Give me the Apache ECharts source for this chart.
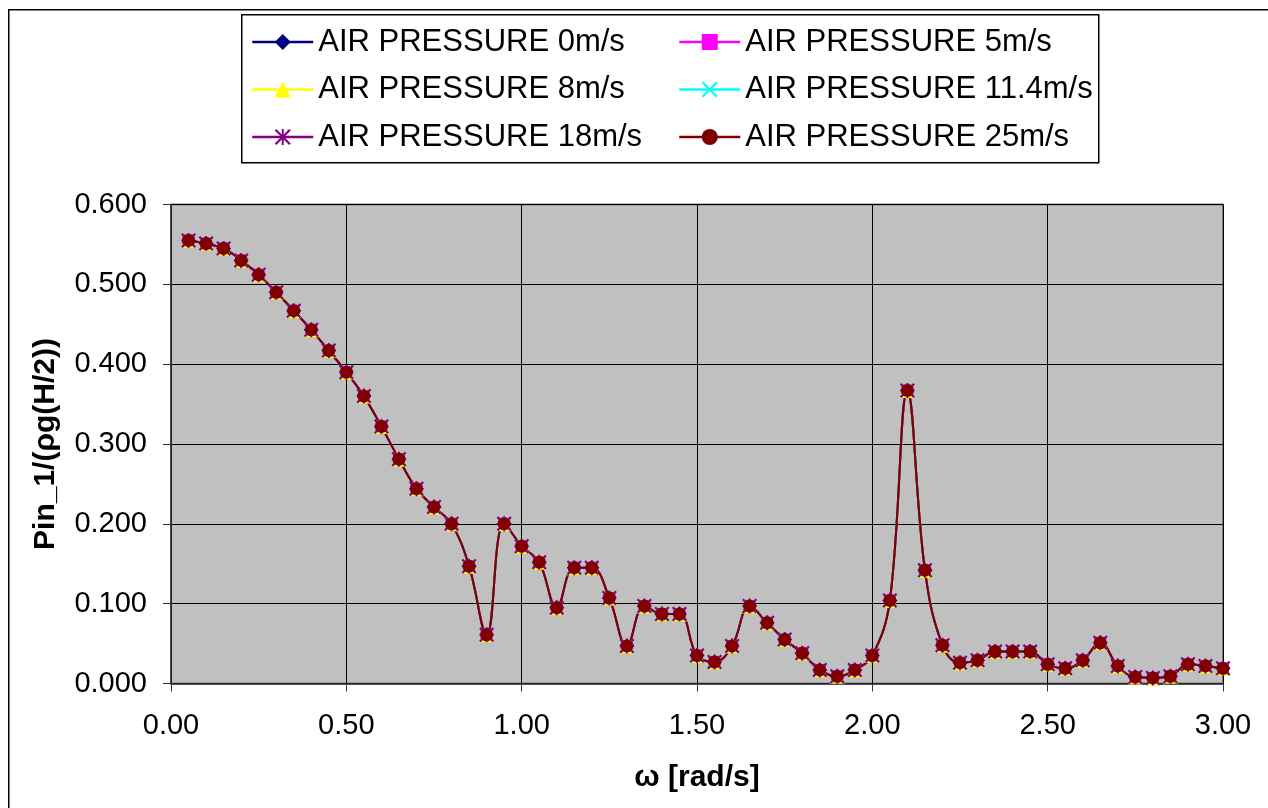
<!DOCTYPE html>
<html>
<head>
<meta charset="utf-8">
<script src="https://cdn.jsdelivr.net/npm/echarts@6/dist/echarts.min.js"></script>
<style>
  html, body { margin: 0; padding: 0; background: #fff; }
  #chart { width: 1268px; height: 808px; }
</style>
</head>
<body>
<div id="chart"></div>
<script>
// omega [rad/s]
var omega = [0.05, 0.10, 0.15, 0.20, 0.25, 0.30, 0.35, 0.40, 0.45, 0.50,
             0.55, 0.60, 0.65, 0.70, 0.75, 0.80, 0.85, 0.90, 0.95, 1.00,
             1.05, 1.10, 1.15, 1.20, 1.25, 1.30, 1.35, 1.40, 1.45, 1.50,
             1.55, 1.60, 1.65, 1.70, 1.75, 1.80, 1.85, 1.90, 1.95, 2.00,
             2.05, 2.10, 2.15, 2.20, 2.25, 2.30, 2.35, 2.40, 2.45, 2.50,
             2.55, 2.60, 2.65, 2.70, 2.75, 2.80, 2.85, 2.90, 2.95, 3.00];

// Pin_1/(rho g (H/2)) - the six wind speeds read the same at this scale
var pinRead = [0.555, 0.551, 0.545, 0.530, 0.512, 0.490, 0.467, 0.443, 0.417, 0.390,
               0.360, 0.322, 0.281, 0.244, 0.221, 0.200, 0.147, 0.061, 0.200, 0.172,
               0.152, 0.095, 0.145, 0.145, 0.107, 0.047, 0.097, 0.087, 0.087, 0.035,
               0.027, 0.047, 0.097, 0.076, 0.055, 0.038, 0.017, 0.009, 0.017, 0.035,
               0.104, 0.367, 0.142, 0.048, 0.026, 0.029, 0.040, 0.040, 0.040, 0.024,
               0.019, 0.029, 0.051, 0.022, 0.008, 0.007, 0.009, 0.024, 0.022, 0.019];

var pin0 = pinRead, pin5 = pinRead, pin8 = pinRead, pin11 = pinRead, pin18 = pinRead, pin25 = pinRead;

var names = ['AIR PRESSURE 0m/s', 'AIR PRESSURE 5m/s', 'AIR PRESSURE 8m/s',
             'AIR PRESSURE 11.4m/s', 'AIR PRESSURE 18m/s', 'AIR PRESSURE 25m/s'];
var values = [pin0, pin5, pin8, pin11, pin18, pin25];
var colors = ['#000080', '#FF00FF', '#FFFF00', '#00FFFF', '#800080', '#800000'];

var xPath = 'path://M1,0L5,4L9,0L10,1L6,5L10,9L9,10L5,6L1,10L0,9L4,5L0,1Z';
var starPath = 'path://M1,0L5,4L9,0L10,1L6,5L10,9L9,10L5,6L1,10L0,9L4,5L0,1Z M4.4,0L5.6,0L5.6,10L4.4,10Z';
var symbols = ['diamond', 'rect', 'triangle', xPath, starPath, 'circle'];
var sizes = [15, 12, 15, 14, 15, 13];

var FONT = '"Liberation Sans", Arial, sans-serif';

var chart = echarts.init(document.getElementById('chart'));

var series = names.map(function (n, i) {
    return {
        name: n,
        type: 'line',
        smooth: 0.4,
        symbol: symbols[i],
        symbolSize: sizes[i],
        showAllSymbol: true,
        lineStyle: { color: colors[i], width: 2 },
        itemStyle: { color: colors[i], borderWidth: 0 },
        data: omega.map(function (x, k) { return [x, values[i][k]]; })
    };
});

var legendBase = {
    orient: 'vertical',
    top: 26,
    padding: 0,
    itemWidth: 61,
    itemHeight: 20,
    itemGap: 15.5,
    lineStyle: { width: 2.5 },
    textStyle: { fontFamily: FONT, fontSize: 31, color: '#000', lineHeight: 32 },
    inactiveColor: '#ccc'
};

chart.setOption({
    backgroundColor: '#fff',
    animation: false,
    graphic: [
        { type: 'rect', left: 8, top: 9, z: -10,
          shape: { width: 1400, height: 1000 },
          style: { fill: '#fff', stroke: '#000', lineWidth: 1.5 } },
        { type: 'rect', left: 241, top: 14, z: -5,
          shape: { width: 857, height: 148 },
          style: { fill: '#fff', stroke: '#000', lineWidth: 1.5 } }
    ],
    legend: [
        Object.assign({}, legendBase, { left: 251, data: [names[0], names[2], names[4]] }),
        Object.assign({}, legendBase, { left: 678, data: [names[1], names[3], names[5]] })
    ],
    grid: {
        left: 171, top: 204.5, right: 45, bottom: 124.5,
        show: true,
        backgroundColor: '#C0C0C0',
        borderColor: '#808080',
        borderWidth: 2
    },
    xAxis: {
        type: 'value',
        min: 0, max: 3, interval: 0.5,
        name: 'ω [rad/s]',
        nameLocation: 'middle',
        nameGap: 79,
        nameTextStyle: { fontFamily: FONT, fontSize: 30, fontWeight: 'bold', color: '#000' },
        axisLine: { show: true, lineStyle: { color: '#333', width: 1.5 } },
        axisTick: { show: true, inside: false, length: 8, lineStyle: { color: '#333' } },
        axisLabel: {
            margin: 28, fontFamily: FONT, fontSize: 29, color: '#000',
            formatter: function (v) { return v.toFixed(2); }
        },
        splitLine: { show: true, lineStyle: { color: '#000', width: 1 } }
    },
    yAxis: {
        type: 'value',
        min: 0, max: 0.6, interval: 0.1,
        name: 'Pin_1/(ρg(H/2))',
        nameLocation: 'middle',
        nameRotate: 90,
        nameGap: 110,
        nameTextStyle: { fontFamily: FONT, fontSize: 30, fontWeight: 'bold', color: '#000' },
        axisLine: { show: true, lineStyle: { color: '#333', width: 1.5 } },
        axisTick: { show: true, inside: false, length: 8, lineStyle: { color: '#333' } },
        axisLabel: {
            margin: 24, fontFamily: FONT, fontSize: 29, color: '#000',
            formatter: function (v) { return v.toFixed(3); }
        },
        splitLine: { show: true, lineStyle: { color: '#000', width: 1 } }
    },
    series: series
});
</script>
</body>
</html>
